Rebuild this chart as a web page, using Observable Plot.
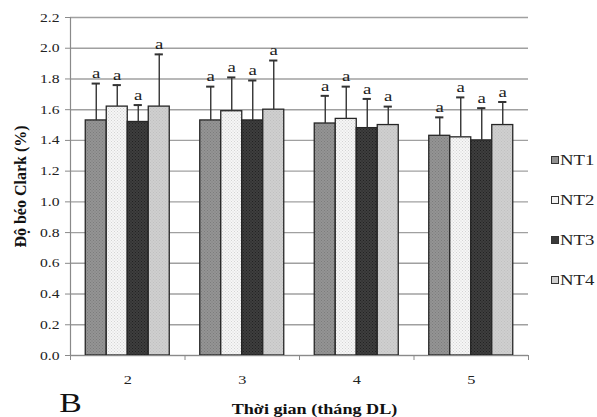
<!DOCTYPE html>
<html><head><meta charset="utf-8">
<script src="https://cdn.jsdelivr.net/npm/d3@7"></script>
<script src="https://cdn.jsdelivr.net/npm/@observablehq/plot@0.6"></script>
<style>
html,body{margin:0;padding:0;background:#fff;}
#wrap{position:relative;width:597px;height:417px;font-family:"Liberation Serif","Times New Roman",serif;color:#222;}
#wrap svg text{font-family:"Liberation Serif","Times New Roman",serif;}
#legend{position:absolute;left:551px;top:151px;display:flex;flex-direction:column;gap:22px;font-size:15px;line-height:18px;}
#legend .it{display:flex;align-items:center;height:18px;}
#legend .sw{width:6px;height:6px;border:1.5px solid #333;margin-right:1px;flex:none;}
#legend .lb{display:inline-block;transform:scaleX(1.25);transform-origin:left center;}
</style></head><body><div id="wrap"></div>
<script>
const months = [2, 3, 4, 5];
const treatments = ["NT1", "NT2", "NT3", "NT4"];
const meanNT1 = [1.53, 1.53, 1.51, 1.43];
const meanNT2 = [1.62, 1.59, 1.54, 1.42];
const meanNT3 = [1.52, 1.53, 1.48, 1.40];
const meanNT4 = [1.62, 1.60, 1.50, 1.50];
const sdNT1 = [0.24, 0.22, 0.18, 0.12];
const sdNT2 = [0.14, 0.22, 0.21, 0.26];
const sdNT3 = [0.11, 0.26, 0.19, 0.21];
const sdNT4 = [0.34, 0.32, 0.12, 0.15];
const letters = ["a", "a", "a", "a"];
const yTicks = [0, 0.2, 0.4, 0.6, 0.8, 1.0, 1.2, 1.4, 1.6, 1.8, 2.0, 2.2];
const yLabel = "Độ béo Clark (%)";
const xLabel = "Thời gian (tháng DL)";
const panelTag = "B";

const means = [meanNT1, meanNT2, meanNT3, meanNT4];
const sds = [sdNT1, sdNT2, sdNT3, sdNT4];
const barW = 0.1834; // bar width in month units
const capW = 0.036;

const rows = [];
treatments.forEach((t, j) => months.forEach((m, i) => {
  rows.push({t, j, m, mean: means[j][i], sd: sds[j][i], up: means[j][i] + sds[j][i], letter: letters[j],
    x1: m + (j - 2) * barW, x2: m + (j - 1) * barW, xc: m + (j - 1.5) * barW});
}));
const bounds = months.map(m => m - 0.5).concat([months[months.length - 1] + 0.5]);

const fills = {NT1: "url(#pNT1)", NT2: "url(#pNT2)", NT3: "url(#pNT3)", NT4: "url(#pNT4)"};

const svg = Plot.plot({
  width: 597, height: 417,
  marginLeft: 70, marginRight: 69, marginTop: 17, marginBottom: 62,
  style: {fontFamily: "'Liberation Serif', 'Times New Roman', serif", fontSize: "12.5px", color: "#222", background: "white"},
  x: {domain: [bounds[0], bounds[bounds.length - 1]], label: null},
  y: {domain: [0, 2.2], label: null},
  marks: [
    Plot.gridY({ticks: yTicks, stroke: "#a0a0a0", strokeOpacity: 1, strokeWidth: 1.4}),
    ...treatments.map(t => Plot.rect(rows.filter(d => d.t === t), {x1: "x1", x2: "x2", y1: 0, y2: "mean", fill: fills[t], stroke: "#262626", strokeWidth: 1.3})),
    Plot.ruleX(rows, {x: "xc", y1: "mean", y2: "up", stroke: "#333", strokeWidth: 1.4}),
    Plot.ruleY(rows, {y: "up", x1: d => d.xc - capW, x2: d => d.xc + capW, stroke: "#333", strokeWidth: 2}),
    Plot.text(rows, {x: "xc", y: "up", text: "letter", dy: -10, fontSize: 15, fill: "#222"}),
    Plot.ruleY([0], {stroke: "#8a8a8a", strokeWidth: 1.2}),
    Plot.ruleX([bounds[0]], {stroke: "#8a8a8a", strokeWidth: 1.2}),
    Plot.axisY({ticks: yTicks, tickFormat: d3.format(".1f"), tickSize: 5, tickPadding: 6, stroke: "#8a8a8a", fill: "#222", label: null}),
    Plot.axisX({ticks: months, tickSize: 0, tickPadding: 19, tickFormat: d => String(d), fontSize: 13, fill: "#222", label: null}),
    Plot.axisX({ticks: bounds, tickSize: 5, tickFormat: () => "", stroke: "#8a8a8a", label: null}),
    Plot.text([yLabel], {frameAnchor: "left", textAnchor: "middle", lineAnchor: "middle", rotate: -90, dx: -50, fontWeight: "bold", fontSize: 16, fill: "#111"}),
    Plot.text([xLabel], {frameAnchor: "bottom", textAnchor: "middle", lineAnchor: "middle", dx: 15, dy: 54, fontWeight: "bold", fontSize: 14.5, fill: "#111"}),
    Plot.text([panelTag], {frameAnchor: "bottom-left", textAnchor: "middle", lineAnchor: "middle", dy: 48, fontSize: 27, fill: "#111"})
  ]
});

const defs = d3.select(svg).insert("defs", ":first-child");
function pat(id, bg, dot, size) {
  const p = defs.append("pattern").attr("id", id).attr("width", size).attr("height", size).attr("patternUnits", "userSpaceOnUse");
  p.append("rect").attr("width", size).attr("height", size).attr("fill", bg);
  p.append("rect").attr("width", 1).attr("height", 1).attr("fill", dot);
  p.append("rect").attr("x", size / 2).attr("y", size / 2).attr("width", 1).attr("height", 1).attr("fill", dot);
}
pat("pNT1", "#949494", "#7c7c7c", 3);
pat("pNT2", "#f6f6f6", "#d4d4d4", 3);
pat("pNT3", "#3e3e3e", "#222", 3);
pat("pNT4", "#cfcfcf", "#c0c0c0", 3);

const wrap = document.getElementById("wrap");
wrap.appendChild(svg);

// the reference's lettering is horizontally stretched; widen horizontal text to match
svg.querySelectorAll("text").forEach(el => {
  const tr = el.getAttribute("transform") || "";
  if (/rotate/.test(tr)) return;
  const len = el.getComputedTextLength();
  if (len > 0) {
    el.setAttribute("textLength", (len * 1.25).toFixed(2));
    el.setAttribute("lengthAdjust", "spacingAndGlyphs");
  }
});

const legend = document.createElement("div");
legend.id = "legend";
const swatchColors = {NT1: "#909090", NT2: "#f2f2f2", NT3: "#3a3a3a", NT4: "#cfcfcf"};
treatments.forEach(t => {
  const it = document.createElement("div"); it.className = "it";
  const sw = document.createElement("span"); sw.className = "sw"; sw.style.background = swatchColors[t];
  const lb = document.createElement("span"); lb.className = "lb"; lb.textContent = t;
  it.appendChild(sw); it.appendChild(lb); legend.appendChild(it);
});
wrap.appendChild(legend);
</script></body></html>
